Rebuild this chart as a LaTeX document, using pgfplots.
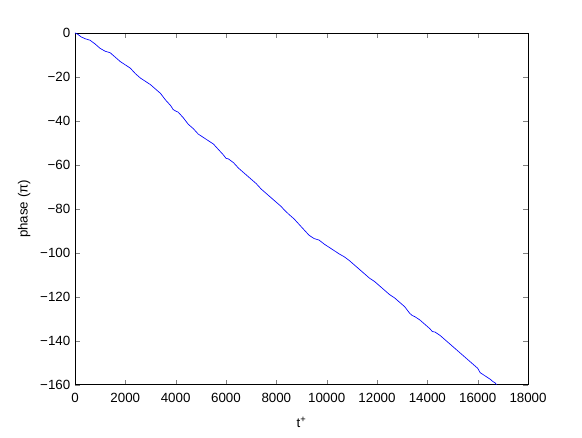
\documentclass[border=0pt]{standalone}
\usepackage{fontspec}
\setmainfont{Liberation Sans}
\usepackage{pgfplots}
\pgfplotsset{compat=1.18}
\begin{document}
\begin{tikzpicture}
\begin{axis}[
    name=main,
    width=340pt,
    height=264pt,
    scale only axis,
    xmin=0, xmax=18000,
    ymin=-160, ymax=0,
    xtick={0,2000,...,18000},
    xticklabels={0,2000,4000,6000,8000,10000,12000,14000,16000,18000},
    scaled x ticks=false,
    ytick={-160,-140,...,0},
    yticklabels={−160,−140,−120,−100,−80,−60,−40,−20,0},
    tick align=inside,
    major tick length=3.5pt,
    xlabel={t\textsuperscript{+}},
    ylabel={phase (π)},
    tick label style={font=\fontsize{10}{12}\selectfont},
    xticklabel style={yshift=-3pt},
    label style={font=\fontsize{10}{12}\selectfont},
    xlabel style={yshift=-4pt},
    ylabel style={yshift=0.5pt},
    axis line style={line width=0.5pt},
    clip=true
]
\addplot[blue, line width=0.5pt] coordinates {
(0,0) (100,-0.5) (250,-1.8) (400,-2.6) (600,-3.3) (800,-5.0) (1000,-7.0)
(1200,-8.3) (1400,-9.0) (1600,-11.0) (1800,-13.0) (2000,-14.5) (2200,-16.0)
(2400,-18.5) (2600,-20.5) (2800,-22.0) (3000,-23.5) (3200,-25.5) (3400,-27.5)
(3600,-30.5) (3800,-33.0) (3900,-34.8) (4000,-35.5) (4100,-36.0) (4300,-38.5)
(4500,-41.5) (4700,-43.5) (4900,-46.0) (5100,-47.5) (5300,-49.0) (5500,-50.5)
(5700,-53.0) (5900,-55.5) (6000,-57.0) (6100,-57.3) (6300,-59.0) (6500,-61.5)
(6700,-63.5) (6900,-65.5) (7100,-67.5) (7200,-68.5) (7400,-71.0) (7600,-73.0)
(7800,-75.0) (8000,-77.0) (8200,-79.0) (8300,-80.3) (8500,-82.5) (8700,-84.5)
(8900,-87.0) (9100,-89.5) (9300,-92.0) (9500,-93.5) (9700,-94.2) (9900,-96.0)
(10100,-97.5) (10300,-99.0) (10500,-100.5) (10700,-101.8) (10900,-103.5)
(11100,-105.5) (11300,-107.5) (11500,-109.5) (11700,-111.5) (11900,-113.0)
(12100,-115.0) (12300,-117.0) (12500,-119.0) (12700,-120.5) (12900,-122.5)
(13100,-124.5) (13300,-127.5) (13400,-128.5) (13500,-129.0) (13700,-130.5)
(13900,-132.5) (14100,-134.5) (14200,-135.8) (14300,-136.0) (14500,-137.5)
(14700,-139.5) (14900,-141.5) (15100,-143.5) (15300,-145.5) (15500,-147.5)
(15700,-149.5) (15900,-151.5) (16000,-152.5) (16100,-154.5) (16300,-156.0)
(16500,-157.5) (16600,-158.5) (16700,-159.2) (16800,-161)
};
\end{axis}
\path[use as bounding box] ([shift={(-56.25pt,-39.75pt)}]main.south west)
    rectangle ([shift={(40.5pt,24.75pt)}]main.north east);
\end{tikzpicture}
\end{document}
